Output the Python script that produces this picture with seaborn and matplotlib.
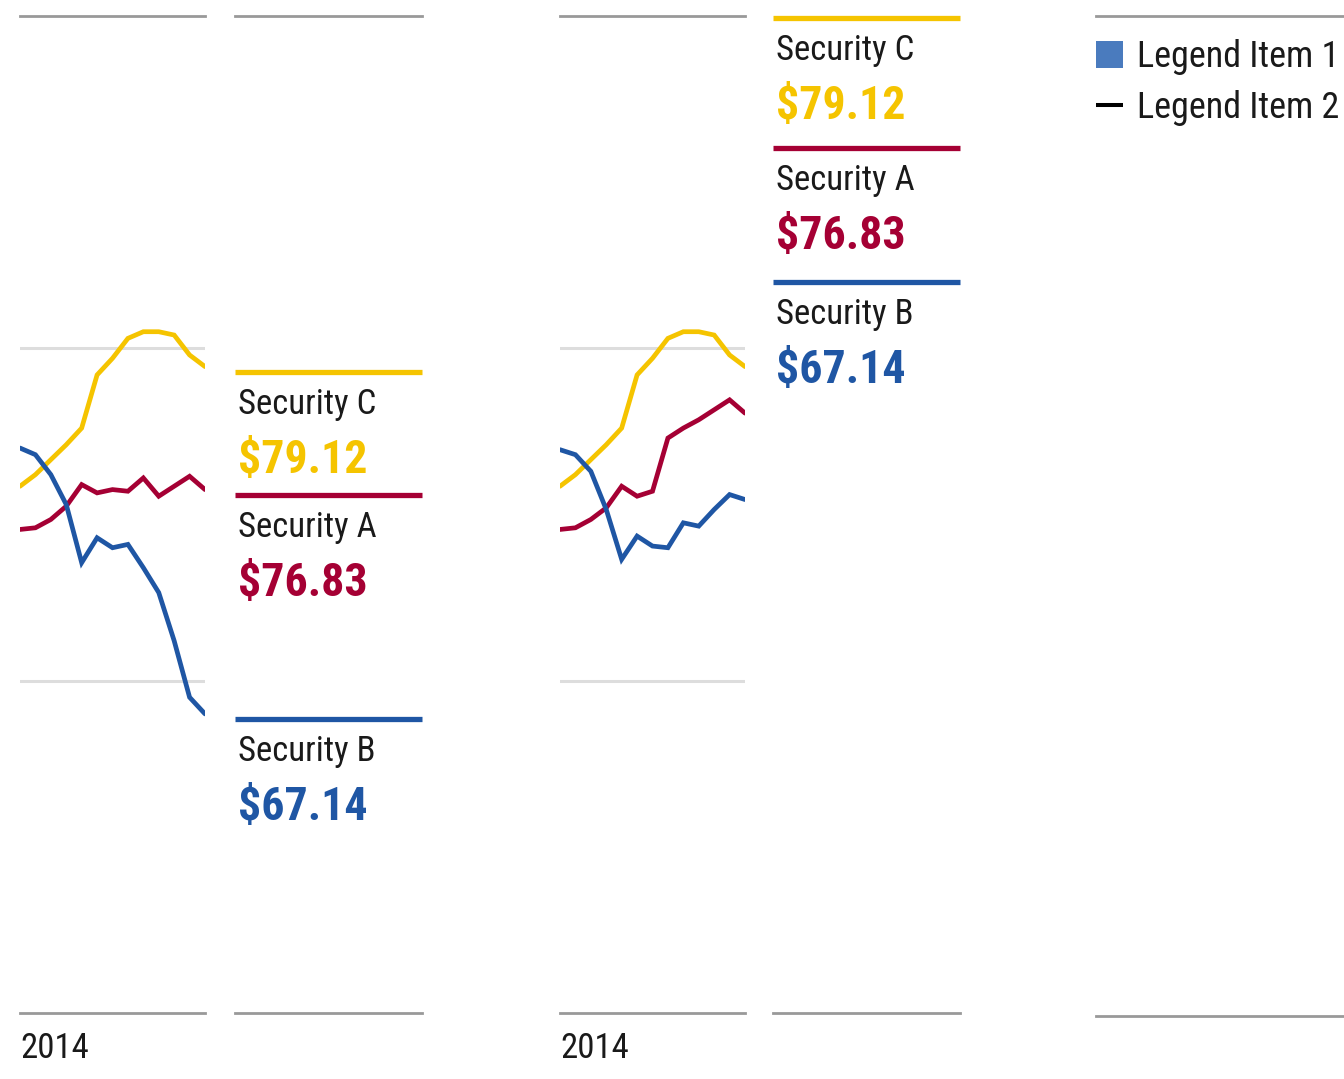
import numpy as np
import pandas as pd
import matplotlib
matplotlib.use("Agg")
import matplotlib.pyplot as plt
from matplotlib.patches import Patch
from matplotlib.lines import Line2D
import seaborn as sns

# ---------------- data ----------------
months = list(range(13))
year_label = "2014"
securities = ["Security C", "Security A", "Security B"]
prices = ["$79.12", "$76.83", "$67.14"]

sec_c = [71.7, 72.4, 73.3, 74.2, 75.2, 78.4, 79.4, 80.6, 81.0, 81.0, 80.8, 79.6, 78.9]
sec_a_left = [69.1, 69.2, 69.7, 70.5, 71.8, 71.3, 71.5, 71.4, 72.2, 71.1, 71.7, 72.3, 71.5]
sec_b_left = [74.0, 73.6, 72.4, 70.6, 67.1, 68.6, 68.0, 68.2, 66.8, 65.3, 62.4, 59.0, 58.0]
sec_a_right = [69.1, 69.2, 69.7, 70.4, 71.7, 71.1, 71.4, 74.6, 75.2, 75.7, 76.3, 76.9, 76.1]
sec_b_right = [73.9, 73.6, 72.6, 70.3, 67.3, 68.7, 68.1, 68.0, 69.5, 69.3, 70.3, 71.2, 70.9]

gridlines = [60, 80]
legend_labels = ["Legend Item 1", "Legend Item 2"]

# ---------------- style ----------------
YELLOW = "#F5C400"
RED = "#A50034"
BLUE = "#1F56A4"
LEG_BLUE = "#4A7BBE"
TEXT = "#1A1A1A"
GRAY = "#999999"
GRID = "#DDDDDD"
palette = {"Security C": YELLOW, "Security A": RED, "Security B": BLUE}

sns.set_theme(style="white")
plt.rcParams["font.family"] = ["Roboto Condensed", "IBM Plex Sans Condensed", "DejaVu Sans"]

W, H = 1344, 1079


def box(x0, y0, x1, y1):
    return [x0 / W, 1 - y1 / H, (x1 - x0) / W, (y1 - y0) / H]


def frame(df_rows):
    return pd.DataFrame(df_rows, columns=["month", "price", "security"])


left_rows = []
right_rows = []
for name, vals_l, vals_r in [("Security C", sec_c, sec_c),
                             ("Security A", sec_a_left, sec_a_right),
                             ("Security B", sec_b_left, sec_b_right)]:
    for m, v in zip(months, vals_l):
        left_rows.append((m, v, name))
    for m, v in zip(months, vals_r):
        right_rows.append((m, v, name))
panels = [frame(left_rows), frame(right_rows)]

fig = plt.figure(figsize=(W / 100, H / 100), dpi=100)
fig.patch.set_facecolor("white")

line_boxes = [(20, 16, 205, 1013), (560, 16, 745, 1013)]
label_boxes = [(235, 16, 422, 1013), (773, 16, 960, 1013)]
YMIN, YMAX = 40, 100


def style_frame(ax, top=True):
    for s in ["left", "right"]:
        ax.spines[s].set_visible(False)
    for s in ["top", "bottom"]:
        ax.spines[s].set_color(GRAY)
        ax.spines[s].set_linewidth(2.0)
    ax.spines["top"].set_visible(top)
    ax.set_facecolor("none")


def draw_label(ax, y, transform, name, price, color):
    ax.plot([0, 1], [y, y], transform=transform, color=color, lw=3.8,
            solid_capstyle="butt", clip_on=False, zorder=5)
    ax.annotate(name, xy=(0, y), xycoords=transform, xytext=(2.5, -30.5),
                textcoords="offset points", va="baseline", ha="left",
                fontsize=25, color=TEXT)
    ax.annotate(price, xy=(0, y), xycoords=transform, xytext=(2, -73),
                textcoords="offset points", va="baseline", ha="left",
                fontsize=33, fontweight="bold", color=color)


for i, df in enumerate(panels):
    ax = fig.add_axes(box(*line_boxes[i]))
    sns.lineplot(data=df, x="month", y="price", hue="security",
                 hue_order=securities, palette=palette, ax=ax,
                 legend=False, linewidth=3.4, sort=False)
    for line in ax.get_lines():
        line.set_solid_joinstyle("miter")
        line.set_linewidth(3.4)
    for g in gridlines:
        ax.axhline(g, color=GRID, lw=2.2, zorder=0)
    ax.set_xlim(months[0], months[-1])
    ax.set_ylim(YMIN, YMAX)
    ax.set_yticks([])
    ax.set_xticks([months[0]])
    ax.set_xticklabels([year_label], ha="left", fontsize=25, color=TEXT)
    ax.tick_params(axis="x", length=0, pad=14)
    ax.set_xlabel("")
    ax.set_ylabel("")
    style_frame(ax)

    lax = fig.add_axes(box(*label_boxes[i]))
    lax.set_xlim(0, 1)
    lax.set_ylim(YMIN, YMAX)
    lax.set_xticks([])
    lax.set_yticks([])
    style_frame(lax, top=(i == 0))
    if i == 0:
        ends = df.groupby("security")["price"].last()
        for name, price in zip(securities, prices):
            draw_label(lax, ends[name] - 0.3, lax.get_yaxis_transform(),
                       name, price, palette[name])
    else:
        stack = [0.998, 0.8676, 0.7332]
        for (name, price), y in zip(zip(securities, prices), stack):
            draw_label(lax, y, lax.transAxes, name, price, palette[name])

# legend column
gax = fig.add_axes(box(1096, 16, 1344, 1016))
gax.set_xticks([])
gax.set_yticks([])
style_frame(gax)
handles = [Patch(facecolor=LEG_BLUE, edgecolor="none"),
           Line2D([], [], color="black", lw=2.9, solid_capstyle="butt")]
gax.legend(handles=handles, labels=legend_labels, loc="upper left",
           bbox_to_anchor=(0, 0.977), frameon=False, fontsize=26,
           handlelength=0.75, handleheight=0.75, handletextpad=0.38,
           labelspacing=0.42, borderpad=0, borderaxespad=0,
           labelcolor=TEXT)

fig.savefig("out.png", dpi=100, facecolor="white")
